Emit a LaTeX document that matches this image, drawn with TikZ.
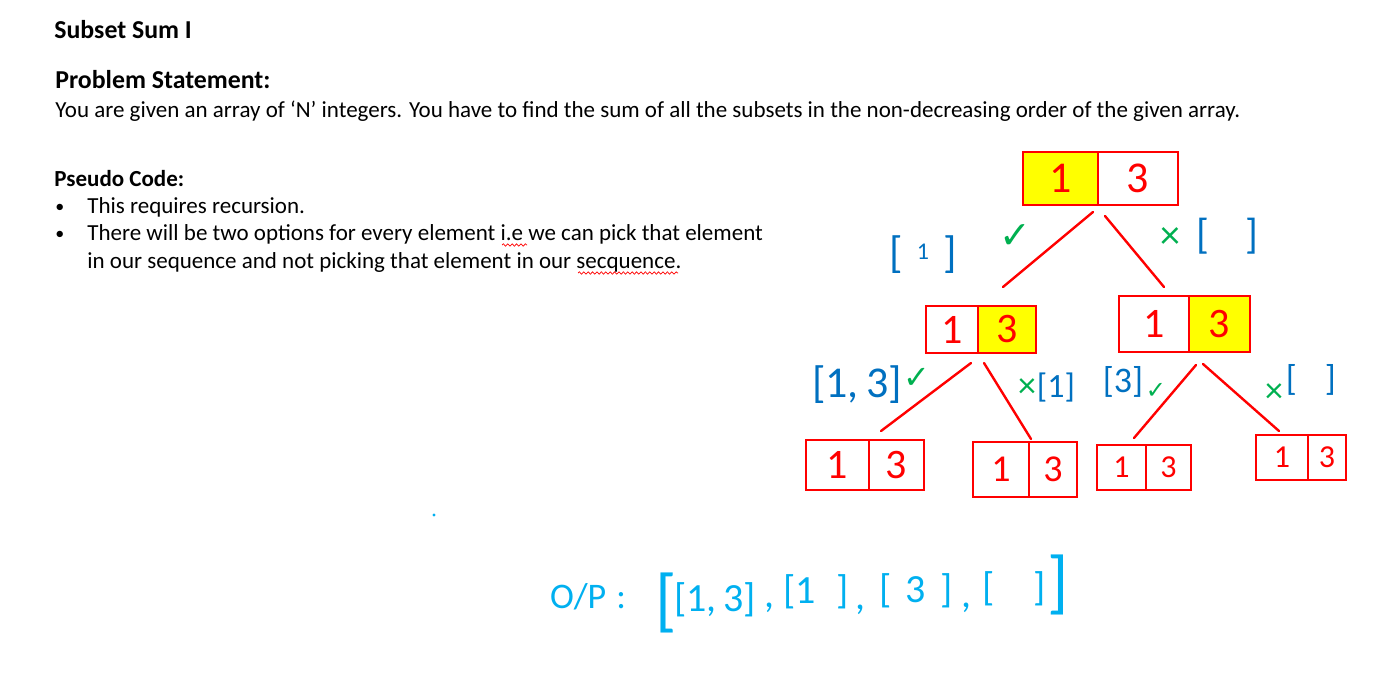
\documentclass[tikz,border=0pt]{standalone}
\usepackage{fontspec}
\setmainfont{Carlito}
\newfontfamily\symfont{DejaVu Sans}
\usetikzlibrary{decorations.pathmorphing}
\definecolor{hred}{RGB}{255,0,0}
\definecolor{hyel}{RGB}{255,255,0}
\definecolor{hblue}{RGB}{0,112,192}
\definecolor{hgreen}{RGB}{0,176,80}
\definecolor{hcyan}{RGB}{0,176,240}
\newcommand{\fs}[1]{\fontsize{#1}{#1}\selectfont}
\begin{document}
\begin{tikzpicture}[x=0.5pt,y=-0.5pt,
  txt/.style={anchor=base west, inner sep=0pt, font=\fs{11.5}},
  head/.style={anchor=base west, inner sep=0pt, font=\fs{12.9}\bfseries},
  bul/.style={anchor=base west, inner sep=0pt, font=\fs{9}},
  cell/.style={draw=hred, line width=1.2pt, text=hred, inner sep=0pt},
  hl/.style={fill=hyel},
  conn/.style={draw=hred, line width=1.2pt, line cap=round},
  blab/.style={text=hblue, inner sep=0pt},
  glab/.style={text=hgreen, inner sep=0pt},
  olab/.style={text=hcyan, inner sep=0pt},
  wavy/.style={draw=hred, line width=0.35pt, decorate, decoration={snake, amplitude=0.6pt, segment length=2.2pt}}
]
\useasboundingbox[fill=white] (0,0) rectangle (1382,691);

% ---- text ----
\node[head] (title) at (54,38) {Subset Sum I};
\node[head] (ps) at (55,88) {Problem Statement:};
\node[txt] (body) at (55,117) {You are given an array of ‘N’ integers. You have to find the sum of all the subsets in the non-decreasing order of the given array.};
\node[head,font=\fs{11.5}\bfseries] (pc) at (54,186) {Pseudo Code:};
\node[bul] (b1) at (55,212) {•};
\node[txt] (l1) at (87,213) {This requires recursion.};
\node[bul] (b2) at (55,239) {•};
\node[txt] (l2) at (87,240) {There will be two options for every element i.e we can pick that element};
\node[txt] (l3) at (87,268) {in our sequence and not picking that element in our secquence.};
\draw[wavy] (502,245) -- (527,245);
\draw[wavy] (578,273) -- (678,273);

% ---- tree boxes ----
\node[cell,hl,minimum width=37.5pt,minimum height=26.5pt,font=\fs{22}] (r1) at (1060.5,178.5) {1};
\node[cell,minimum width=40pt,minimum height=26.5pt,font=\fs{22}] (r3) at (1138,178.5) {3};

\node[cell,minimum width=26pt,minimum height=23.5pt,font=\fs{21}] (a1) at (952,329.5) {1};
\node[cell,hl,minimum width=29pt,minimum height=23.5pt,font=\fs{21}] (a3) at (1007,329.5) {3};

\node[cell,minimum width=35pt,minimum height=28pt,font=\fs{21}] (b1c) at (1154,324) {1};
\node[cell,hl,minimum width=30.5pt,minimum height=28pt,font=\fs{21}] (b3) at (1219.5,324) {3};

\node[cell,minimum width=31.5pt,minimum height=25pt,font=\fs{21}] (c1) at (837.5,465) {1};
\node[cell,minimum width=27.5pt,minimum height=25pt,font=\fs{21}] (c3) at (896.5,465) {3};

\node[cell,minimum width=28pt,minimum height=27.5pt,font=\fs{19}] (d1) at (1001,469.5) {1};
\node[cell,minimum width=24pt,minimum height=27.5pt,font=\fs{19}] (d3) at (1053,469.5) {3};

\node[cell,minimum width=24.5pt,minimum height=22.5pt,font=\fs{16}] (e1) at (1121.5,467.5) {1};
\node[cell,minimum width=22.5pt,minimum height=22.5pt,font=\fs{16}] (e3) at (1168.5,467.5) {3};

\node[cell,minimum width=26pt,minimum height=22.5pt,font=\fs{16}] (f1) at (1282,457.5) {1};
\node[cell,minimum width=19pt,minimum height=22.5pt,font=\fs{16}] (f3) at (1327,457.5) {3};

% ---- connector end points ----
\coordinate (rL) at (1093,212);  \coordinate (aT) at (1003,287);
\coordinate (rR) at (1105,216);  \coordinate (bT) at (1164,287);
\coordinate (aL) at (971,363);   \coordinate (cT) at (881,431);
\coordinate (aR) at (984,363);   \coordinate (dT) at (1031,439);
\coordinate (bL) at (1196,365);  \coordinate (eT) at (1134,438);
\coordinate (bR) at (1203,364);  \coordinate (fT) at (1279,431);
\draw[conn] (rL) -- (aT);
\draw[conn] (rR) -- (bT);
\draw[conn] (aL) -- (cT);
\draw[conn] (aR) -- (dT);
\draw[conn] (bL) -- (eT);
\draw[conn] (bR) -- (fT);

% ---- choice labels ----
\node[blab,font=\fs{22}] (s1) at (923,255) {[\hspace{7pt}\raisebox{4pt}{\fs{12}1}\hspace{7pt}]};
\node[glab,font=\fs{19}\symfont] (k1) at (1015,237) {✓};
\node[glab,font=\fs{20}] (x1) at (1170,238) {×};
\node[blab,font=\fs{21}] (s2) at (1227,236) {[\hspace{18pt}]};

\node[blab,font=\fs{22}] (s3) at (857,385) {[1,\,3]};
\node[glab,font=\fs{16}\symfont] (k2) at (917,378) {✓};
\node[glab,font=\fs{18}] (x2) at (1027,388) {×};
\node[blab,font=\fs{17}] (s4) at (1056,388) {[1]};
\node[blab,font=\fs{18}] (s5) at (1123,382) {[3]};
\node[glab,font=\fs{12}\symfont] (k3) at (1156,391) {✓};
\node[glab,font=\fs{18}] (x3) at (1274,393) {×};
\node[blab,font=\fs{18}] (s6) at (1311,380) {[\hspace{14pt}]};

% ---- output ----
\node[olab,font=\fs{18}] (op) at (588,597) {O/P\hspace{5pt}:};
\node[olab,font=\fs{35}] (ob) at (666,603) {[};
\node[olab,font=\fs{20}] (g1) at (715,600) {[1,\,3]};
\node[olab,font=\fs{20}] (m1) at (769,608) {,};
\node[olab,font=\fs{20}] (g2) at (816,592) {[1\hspace{10pt}]};
\node[olab,font=\fs{20}] (m2) at (860,610) {,};
\node[olab,font=\fs{20}] (g3) at (916,591) {[\hspace{7pt}3\hspace{7pt}]};
\node[olab,font=\fs{20}] (m3) at (966,608) {,};
\node[olab,font=\fs{20}] (g4) at (1014,589) {[\hspace{19pt}]};
\node[olab,font=\fs{35}] (cb) at (1058,585) {]};
\fill[hcyan] (434,515) circle (0.8pt);
\end{tikzpicture}
\end{document}
